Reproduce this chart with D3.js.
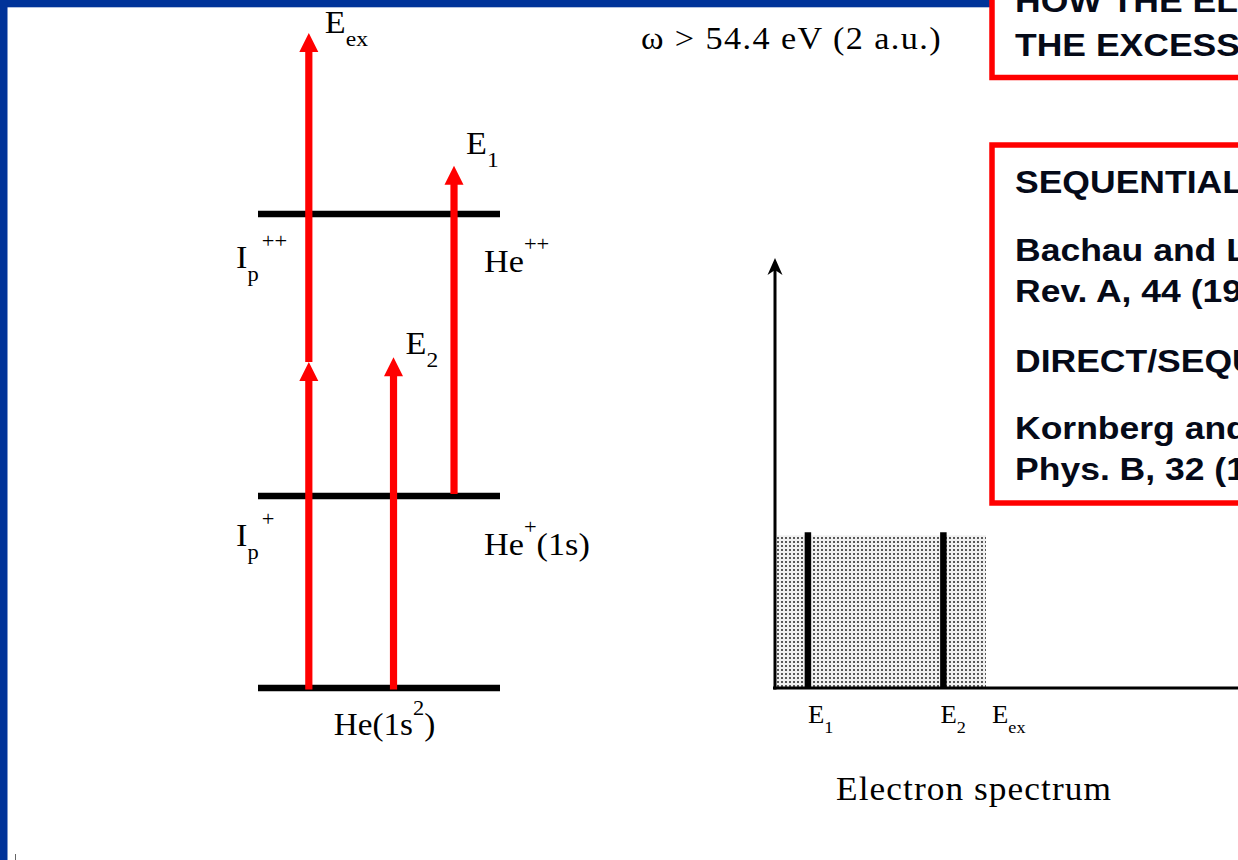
<!DOCTYPE html>
<html>
<head>
<meta charset="utf-8">
<script src="https://cdn.jsdelivr.net/npm/d3@7"></script>
<style>
  html, body { margin: 0; padding: 0; background: #fff; overflow: hidden; }
  svg { display: block; }
</style>
</head>
<body>
<svg id="chart" width="1238" height="860"></svg>
<script>
// ---- Level scheme (schematic diagram units) ----
const levelEnergies = [0, 4.05, 10];
const levelRightLabels = [
  null,
  [["He", ""], ["+", "sup"], ["(1s)", ""]],
  [["He", ""], ["++", "sup"]]
];
const levelLeftLabels = [
  null,
  [["I", ""], ["p", "sub"], ["+", "sup"]],
  [["I", ""], ["p", "sub"], ["++", "sup"]]
];
const groundLabel = [["He(1s", ""], ["2", "sup"], [")", ""]];

// Photon absorption arrows: column, start level, end level
const arrowColumns = [2.1, 2.1, 5.6, 8.1];
const arrowFrom = [0, 6.88, 0, 4.05];
const arrowTo = [6.88, 13.82, 6.98, 11.02];
const arrowTipLabels = [
  null,
  [["E", ""], ["ex", "sub"]],
  [["E", ""], ["2", "sub"]],
  [["E", ""], ["1", "sub"]]
];

// ---- Electron spectrum ----
const spectrumEx = 10;            // end of the continuum plateau
const plateauHeight = 0.355;
const peakNames = [[["E", ""], ["1", "sub"]], [["E", ""], ["2", "sub"]]];
const peakEnergies = [1.56, 7.98];
const peakHeight = 0.362;
const exLabel = [["E", ""], ["ex", "sub"]];

const photonText = "ω > 54.4 eV (2 a.u.)";
const spectrumTitle = "Electron spectrum";
const box1Lines = ["HOW THE ELECTRONS SHARE", "THE EXCESS ENERGY?"];
const box2Lines = [
  "SEQUENTIAL:",
  "Bachau and Lambropoulos, Phys.",
  "Rev. A, 44 (1991)",
  "DIRECT/SEQUENTIAL:",
  "Kornberg and Lambropoulos, J.",
  "Phys. B, 32 (1999)"
];

const svg = d3.select("#chart");
const serif = "'Liberation Serif', 'Times New Roman', serif";
const sans = "'Liberation Sans', Arial, sans-serif";
const RED = "#ff0000";
const BLUE = "#003399";
const SX_SERIF = 1.07;   // slide text is set slightly wide
const SX_SANS = 1.11;

// Text with sub/superscript segments
function richText(sel, x, y, parts, size, small, subDy, supDy) {
  const t = sel.append("text")
    .attr("transform", `translate(${x},${y}) scale(${SX_SERIF},1)`)
    .attr("font-family", serif)
    .attr("font-size", size)
    .attr("fill", "#000");
  let prev = "";
  parts.forEach(([s, kind]) => {
    const ts = t.append("tspan").text(s);
    if (kind === "sub") ts.attr("y", subDy).attr("font-size", small);
    else if (kind === "sup") {
      ts.attr("y", supDy).attr("font-size", small);
      if (prev === "sub") ts.attr("dx", 3);
    }
    else ts.attr("y", 0);
    prev = kind;
  });
  return t;
}

function plainText(sel, x, y, s, size, anchor, spacing) {
  return sel.append("text")
    .attr("transform", `translate(${x},${y}) scale(${SX_SERIF},1)`)
    .attr("font-family", serif).attr("font-size", size)
    .attr("text-anchor", anchor)
    .attr("letter-spacing", spacing)
    .attr("fill", "#000")
    .text(s);
}

// ---- slide frame ----
svg.append("rect").attr("x", 0).attr("y", 0).attr("width", 1238).attr("height", 7.3).attr("fill", BLUE);
svg.append("rect").attr("x", 0).attr("y", 0).attr("width", 7.5).attr("height", 860).attr("fill", BLUE);
svg.append("line").attr("x1", 15.5).attr("x2", 15.5).attr("y1", 854).attr("y2", 860)
  .attr("stroke", "#666").attr("stroke-width", 1);

// ---- level scheme ----
const xd = d3.scaleLinear().domain([0, 10]).range([258, 500]);
const yd = d3.scaleLinear().domain([0, 10]).range([688, 214]);

const scheme = svg.append("g");
scheme.selectAll("line.level")
  .data(levelEnergies)
  .join("line")
  .attr("class", "level")
  .attr("x1", xd(0)).attr("x2", xd(10))
  .attr("y1", d => yd(d)).attr("y2", d => yd(d))
  .attr("stroke", "#000").attr("stroke-width", 6.5);

const headLen = 19, headHalf = 9.5;
const arrows = arrowColumns.map((c, i) => ({ c, from: arrowFrom[i], to: arrowTo[i] }));
const ag = scheme.selectAll("g.arrow").data(arrows).join("g").attr("class", "arrow");
ag.append("line")
  .attr("x1", d => xd(d.c)).attr("x2", d => xd(d.c))
  .attr("y1", (d, i) => yd(d.from) + (i === 0 || i === 2 ? 1.5 : (i === 3 ? -2 : 0)))
  .attr("y2", d => yd(d.to) + headLen - 1)
  .attr("stroke", RED).attr("stroke-width", 7.2);
ag.append("path")
  .attr("d", d => {
    const x = xd(d.c), y = yd(d.to);
    return `M${x},${y}L${x - headHalf},${y + headLen}L${x + headHalf},${y + headLen}Z`;
  })
  .attr("fill", RED);

// labels on the scheme
arrows.forEach((d, i) => {
  if (!arrowTipLabels[i]) return;
  const offs = [null, [16, 0], [12, -3], [12, -12]][i];
  richText(scheme, xd(d.c) + offs[0], yd(d.to) + offs[1], arrowTipLabels[i], 32, 22, 13, -20);
});
levelEnergies.forEach((e, i) => {
  if (levelRightLabels[i]) {
    const dyR = i === 1 ? 59 : 58;
    richText(scheme, xd(10) - 16, yd(e) + dyR, levelRightLabels[i], 32, 21, 13, -21);
  }
  if (levelLeftLabels[i]) {
    richText(scheme, xd(0) - 22, yd(e) + (i === 1 ? 50 : 54), levelLeftLabels[i], 32, 21, 13, -20);
  }
});
richText(scheme, xd(3.13), yd(0) + 47, groundLabel, 31, 21, 13, -20);

// photon energy
plainText(svg, 641, 49, photonText, 32, "start", 1.3);

// ---- electron spectrum ----
const xs = d3.scaleLinear().domain([0, 10]).range([775, 986]);
const ys = d3.scaleLinear().domain([0, 1]).range([688, 258]);

const defs = svg.append("defs");
const pat = defs.append("pattern").attr("id", "stipple")
  .attr("patternUnits", "userSpaceOnUse").attr("width", 4).attr("height", 4);
pat.append("rect").attr("width", 4).attr("height", 4).attr("fill", "#f0f0f0");
pat.append("rect").attr("x", 1).attr("y", 1).attr("width", 2).attr("height", 2).attr("fill", "#585858");

const spec = svg.append("g");
spec.append("rect")
  .attr("x", xs(0) + 2).attr("y", ys(plateauHeight))
  .attr("width", xs(spectrumEx) - xs(0) - 2)
  .attr("height", ys(0) - ys(plateauHeight))
  .attr("fill", "url(#stipple)");

spec.selectAll("line.peak")
  .data(peakEnergies)
  .join("line")
  .attr("class", "peak")
  .attr("x1", d => xs(d)).attr("x2", d => xs(d))
  .attr("y1", ys(0)).attr("y2", ys(peakHeight))
  .attr("stroke", "#000").attr("stroke-width", 6.5);

// axes (no ticks, just the lines)
const xAxis = d3.axisBottom(xs).tickValues([]).tickSizeOuter(0);
const xAxisG = spec.append("g").attr("transform", `translate(0,${ys(0)})`).call(xAxis);
xAxisG.select(".domain").attr("d", `M${xs(0) - 2},0H${xs(22.5)}`)
  .attr("stroke", "#000").attr("stroke-width", 3);
const yAxis = d3.axisLeft(ys).tickValues([]).tickSizeOuter(0);
const yAxisG = spec.append("g").attr("transform", `translate(${xs(0)},0)`).call(yAxis);
yAxisG.select(".domain").attr("d", `M0,${ys(0) + 1.5}V${ys(1) + 12}`)
  .attr("stroke", "#000").attr("stroke-width", 3);
spec.append("path")
  .attr("d", () => {
    const x = xs(0), y = ys(1);
    return `M${x},${y}L${x - 7.5},${y + 17}L${x},${y + 12}L${x + 7.5},${y + 17}Z`;
  })
  .attr("fill", "#000");

peakEnergies.forEach((e, i) => {
  richText(spec, xs(e) + (i === 0 ? 0 : -3), ys(0) + 35, peakNames[i], 25, 17, 10, -14);
});
richText(spec, xs(spectrumEx) + 6, ys(0) + 35, exLabel, 25, 17, 10, -14);

plainText(svg, 974, 800, spectrumTitle, 33, "middle", 1);

// ---- text boxes ----
function textBox(x, y, w, h, lines, baselines) {
  const g = svg.append("g");
  g.append("rect").attr("x", x).attr("y", y).attr("width", w).attr("height", h)
    .attr("fill", "#fff").attr("stroke", RED).attr("stroke-width", 5.5);
  g.selectAll("text").data(lines).join("text")
    .attr("transform", (d, i) => `translate(${x + 23},${baselines[i]}) scale(${SX_SANS},1)`)
    .attr("font-family", sans).attr("font-weight", "bold").attr("font-size", 32)
    .attr("fill", "#050a18")
    .text(d => d);
}
textBox(992, -20, 320, 97.5, box1Lines, [12, 56]);
textBox(992, 145, 320, 358, box2Lines, [193, 261, 302, 372, 439, 480]);
</script>
</body>
</html>
